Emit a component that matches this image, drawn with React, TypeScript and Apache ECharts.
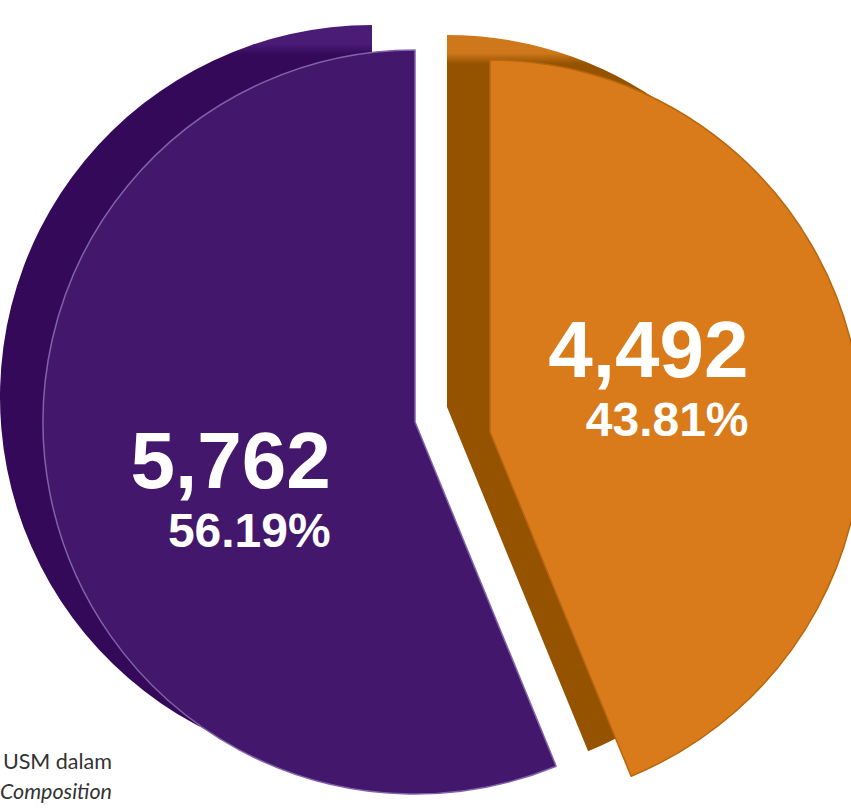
import React, { useEffect, useRef } from 'react';
import * as echarts from 'echarts';

// ---- data ----
const categories = ['Kategori A', 'Kategori B'];
const values = [5762, 4492];
const faceColors = ['#43176b', '#d97b1a'];
const sideColors = ['#34095a', '#955300'];
const sideTopColors = ['#4a1c76', '#cf781b'];
const borderColors = ['#7f62aa', '#b8660e'];
// drawing order clockwise from 12 o'clock (orange first, then purple)
const drawOrder = [1, 0];
const noteLines = ['USM dalam', 'Composition'];

// ---- layout ----
const R = 372;
const faceCenters: [number, number][] = [
  [415, 422],
  [490, 432],
];
const SHIFT: [number, number] = [-43, -25];
const labelShift: { dx: number; dy: number }[] = [
  { dx: 1, dy: 32 },
  { dx: -27, dy: -16 },
];

const fmt = (v: number) => v.toLocaleString('en-US');

function sideFill(i: number) {
  return {
    type: 'linear',
    x: 0,
    y: 0,
    x2: 0,
    y2: 1,
    colorStops: [
      { offset: 0, color: sideTopColors[i] },
      { offset: 0.025, color: sideTopColors[i] },
      { offset: 0.04, color: sideColors[i] },
      { offset: 1, color: sideColors[i] },
    ],
  };
}

function buildPie(visible: number, side: boolean): any {
  const c = faceCenters[visible];
  const center = side ? [c[0] + SHIFT[0], c[1] + SHIFT[1]] : c;
  return {
    type: 'pie',
    radius: R,
    center,
    startAngle: 90,
    clockwise: true,
    silent: true,
    avoidLabelOverlap: false,
    percentPrecision: 2,
    z: side ? 1 : 2,
    emphasis: { disabled: true },
    labelLine: { show: false },
    labelLayout: side ? undefined : labelShift[visible],
    label: {
      show: !side,
      position: 'inside',
      formatter: (p: any) => `{v|${fmt(p.value)}}\n{p|${p.percent.toFixed(2)}%}`,
      rich: {
        v: {
          fontFamily: 'Liberation Sans, Arial, sans-serif',
          fontWeight: 'bold',
          fontSize: 80,
          lineHeight: 80,
          color: '#ffffff',
          align: 'right',
        },
        p: {
          fontFamily: 'Liberation Sans, Arial, sans-serif',
          fontWeight: 'bold',
          fontSize: 48,
          lineHeight: 60,
          color: '#ffffff',
          align: 'right',
        },
      },
    },
    data: drawOrder.map((i) => ({
      name: categories[i],
      value: values[i],
      itemStyle:
        i === visible
          ? {
              color: side ? sideFill(i) : faceColors[i],
              borderColor: side ? sideColors[i] : borderColors[i],
              borderWidth: side ? 0 : 1.5,
            }
          : { color: 'rgba(0,0,0,0)', borderWidth: 0 },
      label: { show: !side && i === visible },
    })),
  };
}

export default function App() {
  const ref = useRef<HTMLDivElement>(null);
  useEffect(() => {
    if (!ref.current) return;
    const chart = echarts.init(ref.current, undefined, { renderer: 'svg' });
    chart.setOption({
      animation: false,
      backgroundColor: '#ffffff',
      series: [buildPie(0, true), buildPie(1, true), buildPie(0, false), buildPie(1, false)],
      graphic: [
        {
          type: 'text',
          x: 112,
          y: 746,
          z: 10,
          style: {
            text: `{a|${noteLines[0]}}\n{b|${noteLines[1]}}`,
            align: 'right',
            rich: {
              a: { fontFamily: 'Lato, sans-serif', fontSize: 21.5, lineHeight: 30, fill: '#333333' },
              b: {
                fontFamily: 'Lato, sans-serif',
                fontSize: 21.5,
                lineHeight: 30,
                fontStyle: 'italic',
                fill: '#333333',
              },
            },
          },
        },
      ],
    });
    return () => chart.dispose();
  }, []);
  return (
    <div
      ref={ref}
      style={{ position: 'fixed', left: 0, top: 0, width: 851, height: 812 }}
    />
  );
}
